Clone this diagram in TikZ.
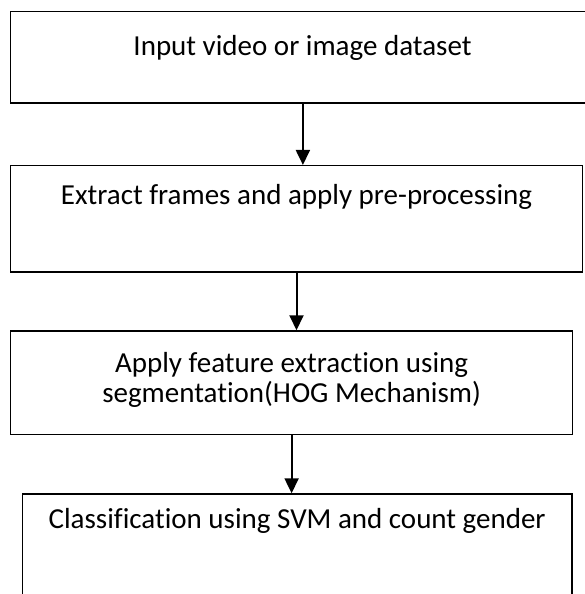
\documentclass[tikz,border=0pt]{standalone}
\usepackage{fontspec}
\setmainfont{Carlito}[Ligatures=NoCommon]
\usetikzlibrary{arrows.meta,positioning}
\begin{document}
\begin{tikzpicture}[x=1pt,y=-1pt,
  stepbox/.style={draw,line width=1.4pt,inner sep=0pt,minimum width=#1},
  steptext/.style={font=\fontsize{29}{30}\selectfont,anchor=base,inner sep=0pt,align=center},
  flow/.style={line width=2pt,-{Triangle[width=14pt,length=15pt]}}]
\useasboundingbox (0,0) rectangle (584,594);
\node[stepbox=584.3pt,minimum height=91.7pt] (input) at (302.9,57.2) {};
\node[stepbox=571.6pt,minimum height=106.3pt] (frames) at (296.5,218.8) {};
\node[stepbox=561.8pt,minimum height=103.5pt] (hog) at (291.6,382.7) {};
\node[stepbox=549.7pt,minimum height=130pt] (svm) at (297.2,559) {};
\node[steptext] (inputtxt) at (302.5,56) {Input video or image dataset};
\node[steptext] (framestxt) at (296.5,204) {Extract frames and apply pre-processing};
\node[steptext] (hogtxt) at (291.6,402) {Apply feature extraction using\\segmentation(HOG Mechanism)};
\node[steptext] (svmtxt) at (297.2,528) {Classification using SVM and count gender};
\draw[flow] (input.south) -- (input.south |- frames.north);
\draw[flow] (frames.south) -- (frames.south |- hog.north);
\draw[flow] (hog.south) -- (hog.south |- svm.north);
\end{tikzpicture}
\end{document}
